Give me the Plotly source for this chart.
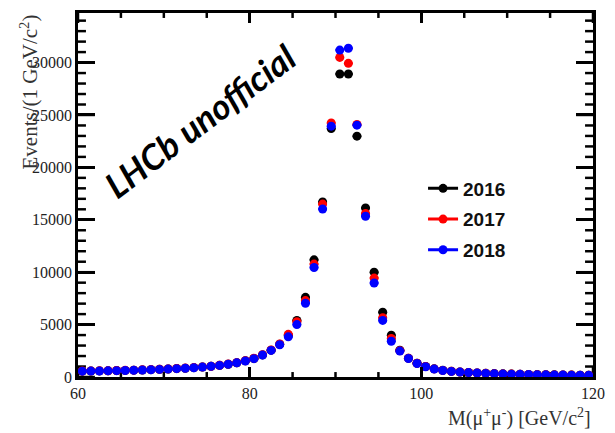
import plotly.graph_objects as go

# Dimuon invariant-mass histogram, 1 GeV bins from 60 to 120 GeV/c^2
mass_bins = [m + 0.5 for m in range(60, 120)]

events_2016 = [560, 570, 580, 590, 610, 630, 650, 670, 700, 730,
               760, 800, 840, 890, 950, 1020, 1110, 1220, 1360, 1540,
               1760, 2110, 2560, 3120, 3980, 5400, 7600, 11180, 16700, 23700,
               28910, 28910, 22980, 16130, 10000, 6180, 3980, 2560, 1800, 1320,
               1000, 780, 640, 550, 480, 430, 390, 355, 325, 300,
               278, 260, 243, 228, 215, 203, 192, 182, 173, 165]

events_2017 = [570, 580, 585, 600, 615, 635, 655, 680, 705, 735,
               770, 810, 850, 900, 960, 1030, 1120, 1230, 1370, 1560,
               1790, 2130, 2580, 3150, 4070, 5280, 7290, 10770, 16500, 24240,
               30490, 29930, 24100, 15600, 9440, 5650, 3670, 2510, 1780, 1310,
               990, 770, 630, 540, 475, 425, 385, 350, 320, 296,
               275, 256, 240, 225, 212, 200, 189, 179, 170, 162]

events_2018 = [555, 565, 575, 590, 605, 625, 645, 670, 695, 725,
               755, 795, 835, 885, 945, 1015, 1105, 1215, 1350, 1530,
               1750, 2090, 2540, 3080, 3830, 5000, 7040, 10450, 16030, 23930,
               31190, 31370, 24030, 15340, 8970, 5400, 3410, 2470, 1760, 1290,
               980, 760, 620, 535, 470, 420, 380, 345, 318, 292,
               272, 252, 236, 222, 209, 197, 186, 176, 167, 159]

years = ["2016", "2017", "2018"]
series = [events_2016, events_2017, events_2018]
colors = ["#000000", "#ff0000", "#0000ff"]

x_range = [60, 120]
y_range = [0, 34730]
x_ticks = [60, 80, 100, 120]
y_ticks = [0, 5000, 10000, 15000, 20000, 25000, 30000]
x_minor = [v for v in range(60, 121, 5) if v not in x_ticks]
y_minor = [v for v in range(0, 34001, 1000) if v not in y_ticks]

W, H = 615, 433
MARGIN = dict(l=78, r=19, t=10, b=56)
plot_w = W - MARGIN["l"] - MARGIN["r"]
plot_h = H - MARGIN["t"] - MARGIN["b"]
x_per_px = (x_range[1] - x_range[0]) / plot_w
y_per_px = (y_range[1] - y_range[0]) / plot_h
TICK_W = 2.5

fig = go.Figure()

# ROOT-style inward tick marks on all four sides, drawn as thin filled bars
tick_bar = dict(showlegend=False, hoverinfo="skip",
                marker=dict(color="black", line=dict(width=0)))
for vals, length in ((x_ticks, 10), (x_minor, 5)):
    dy = length * y_per_px
    for base in (y_range[0], y_range[1] - dy):
        fig.add_trace(go.Bar(
            x=vals, y=[dy] * len(vals), base=base, width=TICK_W * x_per_px,
            orientation="v", **tick_bar))
for vals, length in ((y_ticks, 17), (y_minor, 8)):
    dx = length * x_per_px
    for base in (x_range[0], x_range[1] - dx):
        fig.add_trace(go.Bar(
            y=vals, x=[dx] * len(vals), base=base, width=TICK_W * y_per_px,
            orientation="h", **tick_bar))

# Data points with half-bin horizontal error bars
for year, counts, color in zip(years, series, colors):
    fig.add_trace(go.Scatter(
        x=mass_bins, y=counts, mode="markers", name=year, showlegend=False,
        marker=dict(symbol="circle", size=9, color=color, line=dict(width=0)),
        error_x=dict(type="constant", value=0.5, thickness=2, width=0, color=color),
    ))

# Legend entries (line + marker)
for year, color in zip(years, colors):
    fig.add_trace(go.Scatter(
        x=[None], y=[None], mode="lines+markers", name=year, legendgroup=year,
        line=dict(color=color, width=3),
        marker=dict(symbol="circle", size=9, color=color),
    ))

serif = "Liberation Serif"
tick_font = dict(family=serif, size=16, color="#222222")

fig.update_layout(
    width=W, height=H,
    margin=MARGIN,
    barmode="overlay",
    plot_bgcolor="white", paper_bgcolor="white",
    xaxis=dict(range=x_range, tickmode="array", tickvals=x_ticks,
               ticktext=[str(v) for v in x_ticks],
               ticks="inside", ticklen=10, tickwidth=TICK_W, tickcolor="black",
               showline=True, linewidth=2.5, linecolor="black", mirror="ticks",
               showgrid=False, zeroline=False, tickfont=tick_font),
    yaxis=dict(range=y_range, tickmode="array", tickvals=y_ticks,
               ticktext=[str(v) for v in y_ticks],
               ticks="inside", ticklen=17, tickwidth=TICK_W, tickcolor="black",
               showline=True, linewidth=2.5, linecolor="black", mirror="ticks",
               showgrid=False, zeroline=False, tickfont=tick_font),
    legend=dict(x=0.67, y=0.57, xanchor="left", yanchor="top",
                traceorder="grouped", tracegroupgap=3,
                bgcolor="rgba(0,0,0,0)", borderwidth=0,
                font=dict(family="Liberation Sans", size=19, color="#111111",
                          weight="bold")),
    showlegend=True,
)

fig.add_annotation(
    text="Events/(1 GeV/c<sup>2</sup>)", xref="paper", yref="paper",
    x=0, y=1, xanchor="center", yanchor="top", xshift=-49, textangle=-90,
    showarrow=False, font=dict(family=serif, size=21, color="#333333"),
)
fig.add_annotation(
    text="M(μ<sup>+</sup>μ<sup>-</sup>) [GeV/c<sup>2</sup>]", xref="paper",
    yref="paper", x=1, y=0, xanchor="right", yanchor="middle", yshift=-40,
    showarrow=False, font=dict(family=serif, size=20, color="#333333"),
)
fig.add_annotation(
    text="LHCb unofficial", xref="paper", yref="paper", x=0.237, y=0.705,
    xanchor="center", yanchor="middle", textangle=-37, showarrow=False,
    font=dict(family="Lato", size=35, color="black", weight="bold",
              style="italic"),
)

fig.write_html("out.html")
